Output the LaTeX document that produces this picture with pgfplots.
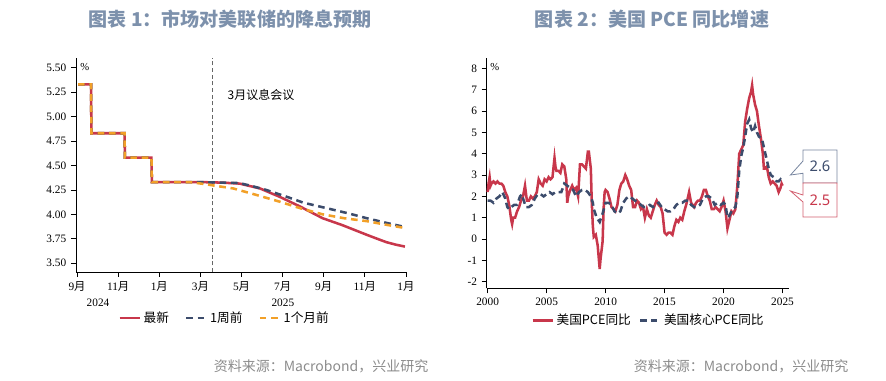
\documentclass[border=0pt]{standalone}
\usepackage{fontspec}
\setmainfont{Liberation Serif}
\newfontfamily\cjk{Noto Sans CJK SC}
\newfontfamily\nsans{Noto Sans}
\usepackage{pgfplots}
\pgfplotsset{compat=1.18}
\definecolor{cred}{RGB}{200,55,75}
\definecolor{cblue}{RGB}{60,76,108}
\definecolor{corange}{RGB}{242,160,40}
\definecolor{ctitle}{RGB}{125,145,172}
\definecolor{csrc}{RGB}{140,140,140}
\definecolor{cbox}{RGB}{120,134,160}
\newcommand\yue{{\cjk 月}}
\pgfplotsset{mystyle/.style={scale only axis, axis x line=bottom, axis y line=left,
  axis line style={black, line width=0.7pt, -}, tick align=outside, major tick length=3.75pt,
  tick style={black, line width=0.6pt}, ticklabel style={font=\fontsize{8.5}{10}\selectfont},
  /pgf/number format/assume math mode=true, clip=false, legend cell align=left,
  legend image code/.code={\draw[#1] (0pt,0pt) -- (15pt,0pt);}}}
\begin{document}
\begin{tikzpicture}
\path[use as bounding box] (0,0) rectangle (664.5pt,285.75pt);
% titles
\node[font=\cjk\bfseries\fontsize{14.3}{17}\selectfont, text=ctitle] at (172.5pt,271.5pt) {图表 1：市场对美联储的降息预期};
\node[font=\cjk\bfseries\fontsize{14.3}{17}\selectfont, text=ctitle] at (489pt,271.5pt) {图表 2：美国 PCE 同比增速};
\node[font=\cjk\fontsize{10.5}{12}\selectfont, text=csrc, anchor=east] at (324.75pt,11.25pt) {资料来源：Macrobond，兴业研究};
\node[font=\cjk\fontsize{10.5}{12}\selectfont, text=csrc, anchor=east] at (639.75pt,11.25pt) {资料来源：Macrobond，兴业研究};

\begin{axis}[mystyle, at={(57pt,81.75pt)}, anchor=south west, width=248.25pt, height=160.5pt,
  xmin=-0.05, xmax=16.05, ymin=3.41, ymax=5.60,
  xtick={0,2,4,6,8,10,12,14,16},
  xticklabels={9\yue,11\yue,1\yue,3\yue,5\yue,7\yue,9\yue,11\yue,1\yue},
  ytick={3.5,3.75,4,4.25,4.5,4.75,5,5.25,5.5},
  yticklabel style={/pgf/number format/.cd,fixed,fixed zerofill,precision=2},
  legend style={at={(0.45,-0.215)}, anchor=center, draw=none, fill=none, legend columns=3,
    font=\cjk\fontsize{9.5}{11}\selectfont, /tikz/every even column/.append style={column sep=10pt}}]
\addplot[gray!80!black, line width=0.6pt, dash pattern=on 3pt off 2pt, forget plot] coordinates {(6.59,3.41) (6.59,5.60)};
\addplot[cred, line width=1.9pt] coordinates {
(0.05,5.33) (0.68,5.33) (0.70,4.83) (2.31,4.83) (2.33,4.58) (3.62,4.58) (3.64,4.33)
(6.0,4.33) (7.0,4.325) (7.9,4.315) (8.4,4.29) (8.9,4.265) (9.4,4.22) (9.85,4.18)
(10.35,4.13) (10.85,4.08) (11.4,4.02) (11.95,3.96) (12.9,3.89) (13.5,3.84) (14.1,3.79)
(14.6,3.75) (15.05,3.715) (15.5,3.69) (15.95,3.67)};
\addlegendentry{最新}
\addplot[cblue, line width=1.9pt, dash pattern=on 5pt off 3.5pt] coordinates {
(0.05,5.33) (0.68,5.33) (0.70,4.83) (2.31,4.83) (2.33,4.58) (3.62,4.58) (3.64,4.33)
(6.0,4.33) (7.9,4.32) (8.5,4.29) (9.2,4.25) (10.2,4.18) (11.0,4.12) (12.2,4.06)
(13.2,4.01) (14.1,3.96) (15.0,3.915) (15.95,3.87)};
\addlegendentry{1周前}
\addplot[corange, line width=1.9pt, dash pattern=on 5pt off 3.5pt] coordinates {
(0.05,5.33) (0.68,5.33) (0.70,4.83) (2.31,4.83) (2.33,4.58) (3.62,4.58) (3.64,4.33)
(5.5,4.33) (6.2,4.31) (6.8,4.29) (7.6,4.265) (8.7,4.20) (9.85,4.13) (10.9,4.06)
(11.95,4.00) (13.0,3.96) (14.1,3.93) (15.0,3.895) (15.95,3.86)};
\addlegendentry{1个月前}
\node[font=\cjk\fontsize{9}{10}\selectfont] at (axis description cs:0.559,0.827) {3月议息会议};
\node[font=\fontsize{8}{9}\selectfont] at (axis description cs:0.027,0.96) {\%};
\node[font=\fontsize{8.5}{10}\selectfont] at (axis description cs:0.0665,-0.145) {2024};
\node[font=\fontsize{8.5}{10}\selectfont] at (axis description cs:0.625,-0.145) {2025};
\end{axis}

\begin{axis}[mystyle, at={(365pt,69.5pt)}, anchor=south west, width=226.95pt, height=172.5pt,
  xmin=1999.92, xmax=2025.57, ymin=-2.31, ymax=8.47,
  xtick={2000,2005,2010,2015,2020,2025}, ytick={-2,-1,0,1,2,3,4,5,6,7,8},
  xticklabel style={/pgf/number format/1000 sep={}},
  legend style={at={(0.536,-0.139)}, anchor=center, draw=none, fill=none, legend columns=2,
    font=\cjk\fontsize{9.5}{11}\selectfont, /tikz/every even column/.append style={column sep=4pt}}]
\addplot[cred, line width=1.9pt] table {
2000.0 2.2
2000.08 2.6
2000.17 2.9
2000.25 2.5
2000.33 2.6
2000.5 2.7
2000.67 2.6
2000.83 2.7
2001.0 2.6
2001.17 2.6
2001.33 2.5
2001.5 2.2
2001.67 2.0
2001.83 1.6
2002.0 0.9
2002.08 0.7
2002.17 1.0
2002.33 1.0
2002.5 1.3
2002.67 1.5
2002.83 1.8
2003.0 2.0
2003.17 2.5
2003.33 1.8
2003.5 1.8
2003.67 2.0
2003.83 1.9
2004.0 2.0
2004.17 2.2
2004.33 2.8
2004.5 2.6
2004.67 2.5
2004.83 2.8
2005.0 2.7
2005.17 2.9
2005.33 2.8
2005.5 2.9
2005.67 3.8
2005.75 3.4
2005.83 3.2
2006.0 3.2
2006.17 3.1
2006.33 3.5
2006.5 3.4
2006.67 2.8
2006.75 1.7
2006.83 2.0
2007.0 2.3
2007.17 2.5
2007.33 2.3
2007.5 2.4
2007.67 2.0
2007.83 3.5
2008.0 3.5
2008.17 3.4
2008.33 3.3
2008.5 4.1
2008.58 4.1
2008.75 3.3
2008.83 1.7
2008.92 0.6
2009.0 0.1
2009.17 0.2
2009.33 -0.3
2009.5 -1.4
2009.58 -0.9
2009.75 -0.1
2009.83 1.4
2009.92 2.2
2010.0 2.3
2010.17 2.2
2010.33 1.9
2010.5 1.5
2010.67 1.4
2010.83 1.3
2011.0 1.6
2011.17 2.3
2011.33 2.6
2011.5 2.7
2011.67 3.0
2011.83 2.8
2012.0 2.5
2012.17 2.3
2012.33 1.5
2012.5 1.5
2012.67 1.8
2012.83 1.7
2013.0 1.4
2013.17 1.5
2013.33 1.0
2013.5 1.4
2013.67 1.1
2013.83 1.0
2014.0 1.3
2014.17 1.6
2014.33 1.8
2014.5 1.6
2014.67 1.5
2014.83 1.2
2015.0 0.3
2015.17 0.2
2015.33 0.3
2015.5 0.3
2015.67 0.2
2015.83 0.6
2016.0 0.9
2016.17 0.8
2016.33 1.0
2016.5 0.9
2016.67 1.3
2016.83 1.6
2017.0 2.0
2017.08 2.2
2017.25 1.7
2017.5 1.5
2017.67 1.7
2017.83 1.8
2018.0 1.8
2018.17 2.0
2018.33 2.3
2018.5 2.3
2018.67 2.0
2018.83 1.8
2019.0 1.4
2019.17 1.4
2019.33 1.5
2019.5 1.4
2019.67 1.3
2019.83 1.5
2020.0 1.8
2020.17 1.3
2020.33 0.5
2020.5 0.9
2020.67 1.3
2020.83 1.2
2021.0 1.4
2021.17 2.5
2021.33 4.0
2021.5 4.2
2021.67 4.4
2021.83 5.5
2022.0 6.1
2022.17 6.6
2022.33 6.9
2022.42 7.2
2022.5 6.8
2022.67 6.3
2022.83 6.0
2023.0 5.3
2023.17 4.7
2023.33 4.0
2023.42 3.3
2023.5 3.3
2023.67 3.4
2023.83 2.9
2024.0 2.6
2024.17 2.7
2024.33 2.6
2024.5 2.5
2024.67 2.2
2024.75 2.3
2024.83 2.4
2024.92 2.6
2025.0 2.5
};
\addlegendentry{美国PCE同比}
\addplot[cblue, line width=1.9pt, dash pattern=on 5pt off 3pt] table {
2000.0 1.8
2000.25 1.8
2000.5 1.7
2000.75 1.9
2001.0 2.0
2001.25 2.2
2001.5 1.9
2001.67 1.5
2001.83 1.4
2002.0 1.5
2002.25 1.6
2002.5 1.6
2002.75 2.0
2002.92 2.1
2003.0 1.9
2003.25 1.5
2003.5 1.5
2003.75 1.6
2004.0 1.9
2004.25 2.1
2004.5 2.1
2004.75 2.0
2005.0 2.1
2005.25 2.2
2005.5 2.1
2005.75 2.2
2006.0 2.2
2006.25 2.2
2006.5 2.6
2006.75 2.5
2007.0 2.4
2007.25 2.3
2007.5 2.0
2007.75 2.2
2008.0 2.3
2008.25 2.3
2008.5 2.2
2008.75 2.0
2008.92 1.7
2009.0 1.4
2009.25 1.0
2009.5 0.8
2009.75 1.2
2010.0 1.7
2010.25 1.7
2010.5 1.6
2010.75 1.3
2011.0 1.2
2011.25 1.3
2011.5 1.7
2011.75 1.9
2012.0 2.0
2012.25 1.9
2012.5 1.8
2012.75 1.7
2013.0 1.6
2013.25 1.5
2013.5 1.5
2013.75 1.6
2014.0 1.5
2014.25 1.6
2014.5 1.7
2014.75 1.5
2015.0 1.4
2015.25 1.3
2015.5 1.3
2015.75 1.4
2016.0 1.6
2016.25 1.7
2016.5 1.7
2016.75 1.8
2017.0 1.8
2017.25 1.6
2017.5 1.5
2017.75 1.5
2018.0 1.6
2018.25 1.9
2018.5 2.0
2018.75 2.0
2019.0 1.9
2019.25 1.6
2019.5 1.7
2019.75 1.6
2020.0 1.7
2020.17 1.6
2020.33 1.0
2020.5 1.1
2020.75 1.4
2021.0 1.5
2021.17 2.0
2021.33 3.2
2021.5 3.9
2021.67 4.3
2021.83 4.8
2022.0 5.4
2022.17 5.6
2022.33 5.2
2022.5 5.0
2022.67 5.3
2022.83 5.0
2023.0 4.8
2023.25 4.7
2023.5 4.1
2023.67 3.7
2023.83 3.3
2024.0 3.0
2024.25 2.9
2024.5 2.7
2024.67 2.7
2024.83 2.8
2025.0 2.7
};
\addlegendentry{美国核心PCE同比}
\node[font=\fontsize{8}{9}\selectfont] at (axis description cs:0.027,0.964) {\%};
\end{axis}

% callouts (pixel coordinates)
\begin{scope}[x=0.75pt,y=0.75pt]
\draw[cbox, line width=0.6pt, fill=white] (837,231) -- (803,231) -- (803,220) -- (790.5,206) -- (803,207.7) -- (803,198) -- (837,198) -- cycle;
\draw[cred!80, line width=0.6pt, fill=white] (803,198) -- (837,198) -- (837,164) -- (803,164) -- (803,179) -- (790.5,190) -- (803,186) -- cycle;
\node[font=\nsans\fontsize{11}{12}\selectfont, text=cblue] at (820,214.5) {2.6};
\node[font=\nsans\fontsize{11}{12}\selectfont, text=cred] at (820,181) {2.5};
\end{scope}
\end{tikzpicture}
\end{document}
